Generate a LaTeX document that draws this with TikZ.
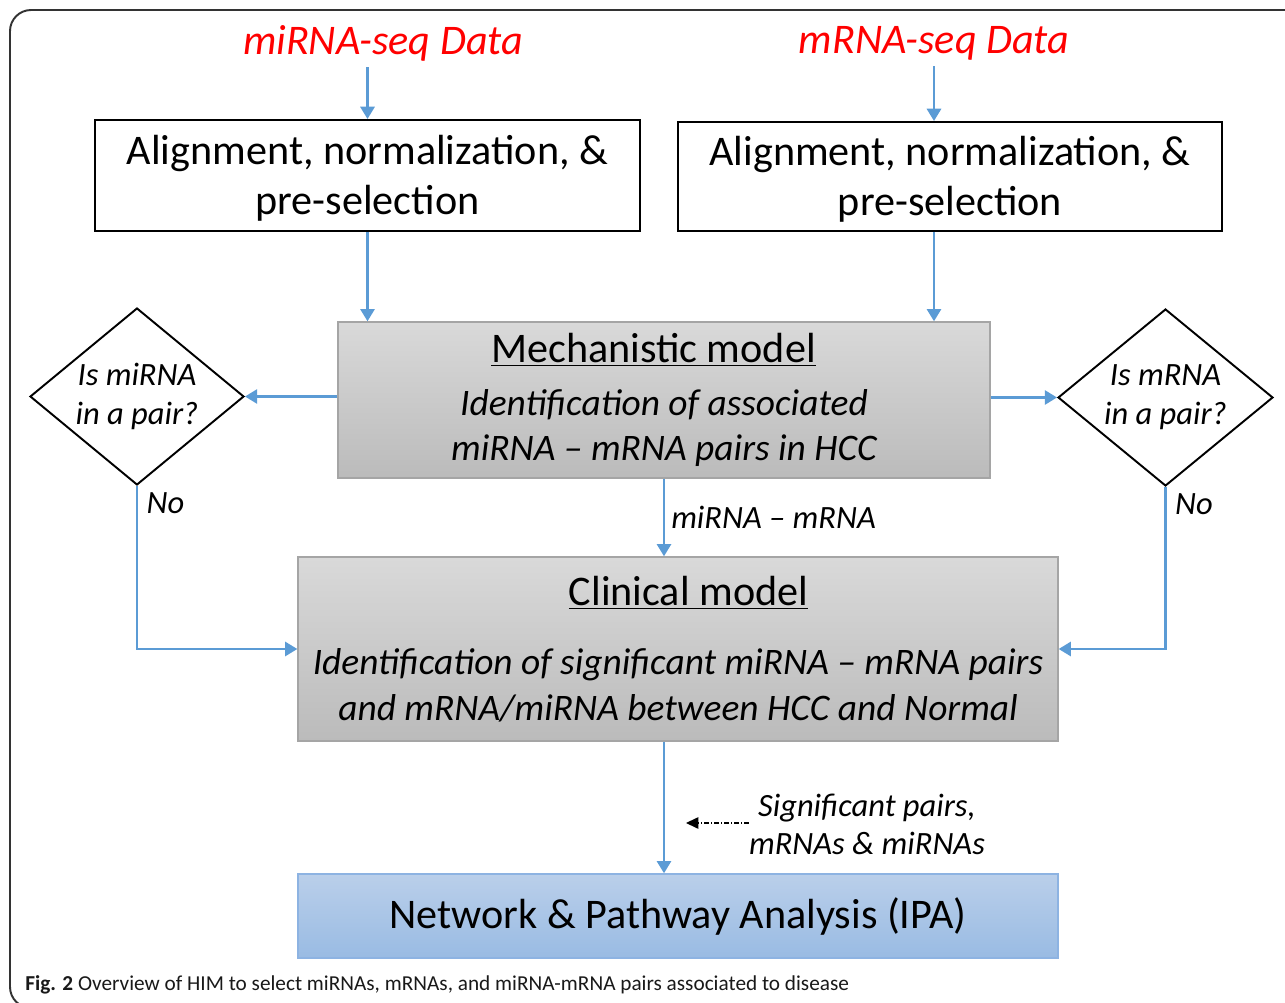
\documentclass[tikz,border=0pt]{standalone}
\usepackage{fontspec}
\setmainfont{Carlito}
\usetikzlibrary{shapes.geometric,arrows.meta}

\definecolor{flowblue}{HTML}{5B9BD5}
\definecolor{graytop}{HTML}{D9D9D9}
\definecolor{graybot}{HTML}{BBBBBB}
\definecolor{grayedge}{HTML}{A5A5A5}
\definecolor{ipatop}{HTML}{BACFEA}
\definecolor{ipabot}{HTML}{99BBE3}
\definecolor{ipaedge}{HTML}{8DB3E2}
\newcommand{\bodyit}{\fontsize{21.3}{25.6}\selectfont\itshape}

\begin{document}
\begin{tikzpicture}[x=0.02cm,y=-0.02cm]
\tikzstyle{every node}=[font=\fontsize{24}{28.5}\selectfont]
\tikzstyle{source}=[text=red,font=\fontsize{24}{28}\selectfont\itshape]
\tikzstyle{prepbox}=[draw,line width=1.1pt,align=center,inner sep=0pt]
\tikzstyle{modelbox}=[draw=grayedge,line width=0.8pt,top color=graytop,bottom color=graybot,align=center,inner sep=0pt]
\tikzstyle{ipabox}=[draw=ipaedge,line width=0.8pt,top color=ipatop,bottom color=ipabot,inner sep=0pt]
\tikzstyle{decision}=[diamond,draw,line width=1.1pt,aspect=1.21,inner sep=0pt,align=center,font=\fontsize{18.5}{22}\selectfont\itshape]
\tikzstyle{note}=[font=\fontsize{18.5}{21.6}\selectfont\itshape]
\tikzstyle{flow}=[draw=flowblue,line width=1.6pt,-{Triangle[length=7pt,width=8pt,fill=flowblue]}]
\tikzstyle{hint}=[line width=0.7pt,dash pattern=on 2.5pt off 1.2pt on 0.8pt off 1.2pt,-{Triangle[length=7pt,width=6.5pt,fill=black]}]

\useasboundingbox (0,0) rectangle (1285,1003);

% frame
\begin{scope}
\clip (0,0) rectangle (1285,1003);
\draw[line width=1.1pt,black!80,rounded corners=12] (1300,10) -- (10,10) -- (10,1008) -- (40,1008);
\end{scope}

% inputs
\node[source] (mirna) at (383,43) {miRNA-seq Data};
\node[source] (mrna) at (934,43) {mRNA-seq Data};

\node[prepbox,minimum width=10.9cm,minimum height=2.22cm] (prepL) at (367.5,175.5)
  {\rule{0pt}{20pt}Alignment, normalization, \&\\pre-selection};
\node[prepbox,minimum width=10.88cm,minimum height=2.18cm] (prepR) at (950,176.5)
  {\rule{0pt}{20pt}Alignment, normalization, \&\\pre-selection};

% models
\node[modelbox,minimum width=13.04cm,minimum height=3.12cm] (mech) at (664,400)
  {\hspace*{-12pt}\underline{Mechanistic model}\\[1.5pt]
   {\bodyit Identification of associated}\\[-3pt]
   {\bodyit miRNA -- mRNA pairs in HCC}};
\node[modelbox,minimum width=15.2cm,minimum height=3.68cm] (clin) at (678,649)
  {\hspace*{12pt}\underline{Clinical model}\\[11pt]
   {\bodyit Identification of significant miRNA -- mRNA pairs}\\[-2.3pt]
   {\bodyit and mRNA/miRNA between HCC and Normal}};
\node[ipabox,minimum width=15.2cm,minimum height=1.68cm] (ipa) at (678,916)
  {Network \& Pathway Analysis (IPA)};

% decisions
\node[decision,minimum width=4.28cm,minimum height=3.54cm] (askmi) at (137,396.5)
  {Is miRNA\\in a pair?};
\node[decision,minimum width=4.3cm,minimum height=3.54cm] (askm) at (1165.5,397.5)
  {Is mRNA\\in a pair?};
\node[note,anchor=north west,xshift=2pt] (noL) at (askmi.south) {No};
\node[note,anchor=north west,xshift=2pt] (noR) at (askm.south) {No};

\node[note,align=center,inner sep=0pt] (sig) at (867,824)
  {Significant pairs,\\mRNAs \& miRNAs};
\coordinate (sigtip) at (686,823);

% connectors
\draw[flow] (prepL.north |- mirna.south) -- (prepL.north);
\draw[flow] (mrna.south) -- (mrna.south |- prepR.north);
\draw[flow] (prepL.south) -- (prepL.south |- mech.north);
\draw[flow] (mrna.south |- prepR.south) -- (mrna.south |- mech.north);
\draw[flow] (mech.west |- askmi.east) -- (askmi.east);
\draw[flow] (mech.east |- askm.west) -- (askm.west);
\draw[flow] (mech.south) -- node[note,right] (pairlbl) {miRNA -- mRNA} (mech.south |- clin.north);
\draw[flow] (askmi.south) |- (clin.west);
\draw[flow] (askm.south) |- (clin.east);
\draw[flow] (mech.south |- clin.south) -- (mech.south |- ipa.north);
\draw[hint] (sig.west |- sigtip) -- (sigtip);

% caption
\node[anchor=west,inner sep=0pt,text=black!90,font=\fontsize{12.1}{14}\selectfont] (caption) at (25,985)
  {\textbf{Fig. 2} Overview of HIM to select miRNAs, mRNAs, and miRNA-mRNA pairs associated to disease};
\end{tikzpicture}
\end{document}
